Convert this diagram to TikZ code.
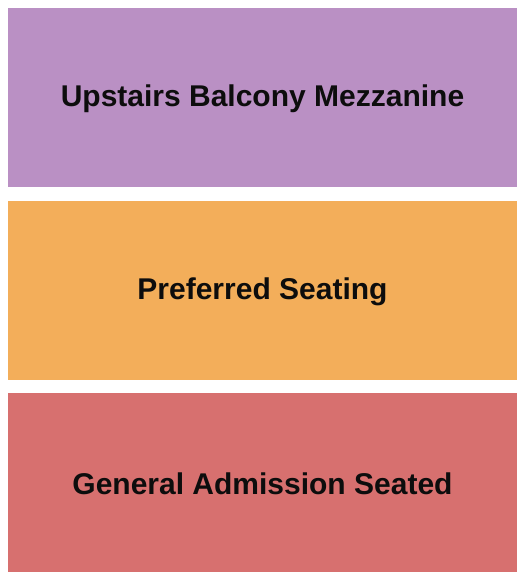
\documentclass[tikz,border=0pt]{standalone}
\usepackage{fontspec}
\setmainfont{Liberation Sans}
\usepackage{tikz}
\definecolor{balcony}{HTML}{BA90C4}
\definecolor{preferred}{HTML}{F3AE5A}
\definecolor{general}{HTML}{D7706F}
\tikzstyle{section}=[rectangle,minimum width=509pt,minimum height=179pt,inner sep=0pt]
\tikzstyle{label} = [font=\fontsize{30}{36}\selectfont\bfseries, text=black!95]

\begin{document}
\begin{tikzpicture}[x=1pt, y=1pt]

    \useasboundingbox (0,0) rectangle (525,-580);

     \foreach \y/\name/\col in {-97.5/balc/balcony, -290.5/pref/preferred, -482.5/gen/general}
        \node[section, fill=\col] (\name) at (262.5, \y) {};

     \foreach \name/\txt in {balc/Upstairs Balcony Mezzanine, pref/Preferred Seating, gen/General Admission Seated}
        \node[label] (\name-text) at ([yshift=-1pt]\name.center) {\txt};

\end{tikzpicture}
\end{document}
